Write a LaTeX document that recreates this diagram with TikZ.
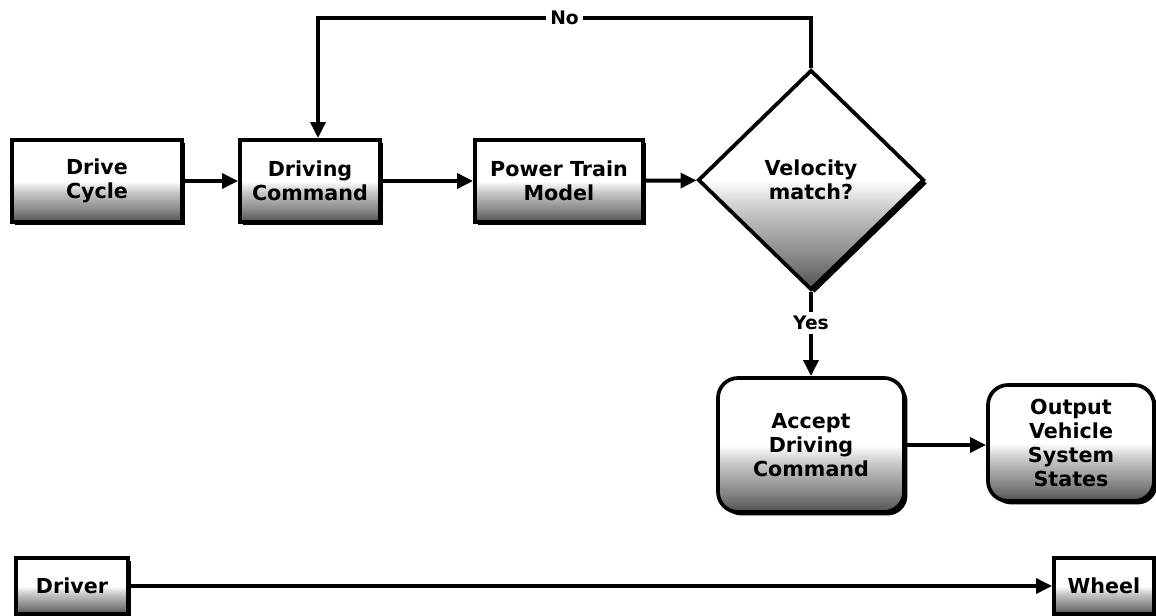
\documentclass[tikz,border=0pt]{standalone}
\usepackage{fontspec}
\setmainfont{DejaVu Sans}
\usetikzlibrary{arrows.meta,shapes.geometric,shadows}

% white top half fading to dark grey at the bottom
\pgfdeclareverticalshading{boxfade}{100bp}{%
  color(0bp)=(black!68); color(25bp)=(black!68); color(32bp)=(black!48);
  color(43bp)=(black!22); color(50bp)=(white); color(100bp)=(white)}

\tikzset{
  blk/.style={draw=black, line width=2.8pt, shading=boxfade,
    drop shadow={shadow xshift=2.6pt, shadow yshift=-2.6pt, fill=black, opacity=1},
    font=\fontsize{15.5}{18}\selectfont\bfseries, align=center, inner sep=2pt},
  stepbox/.style={blk, rectangle},
  roundbox/.style={blk, rectangle, rounded corners=15pt},
  decide/.style={blk, diamond, inner sep=0pt},
  flow/.style={line width=3pt, -{Triangle[length=12pt,width=11pt]}},
  tag/.style={font=\fontsize{14}{16}\selectfont\bfseries, fill=white, inner sep=3pt}
}

\begin{document}
\begin{tikzpicture}[x=0.75pt, y=-0.75pt]
\useasboundingbox (0,0) rectangle (1156,616);

% main chain
\node[stepbox, minimum width=127.5pt, minimum height=61.5pt] (drive) at (97,181) {Drive\\Cycle};
\node[stepbox, minimum width=105pt, minimum height=61.5pt] (cmd) at (310,181) {Driving\\Command};
\node[stepbox, minimum width=126pt, minimum height=61.5pt] (ptm) at (559,181) {Power Train\\Model};
\node[decide, minimum width=169.5pt, minimum height=165pt] (vel) at (811,180) {Velocity\\match?};

% accepted branch
\node[roundbox, minimum width=139.5pt, minimum height=100.5pt] (acc) at (811,445) {Accept\\Driving\\Command};
\node[roundbox, minimum width=124.5pt, minimum height=87pt] (out) at (1071,443) {Output\\Vehicle\\System\\States};

% bottom strip
\node[stepbox, minimum width=84pt, minimum height=42pt] (driver) at (72,586) {Driver};
\node[stepbox, minimum width=75pt, minimum height=42pt] (wheel) at (1104,586) {Wheel};

% connectors
\draw[flow] (drive) -- (cmd);
\draw[flow] (cmd) -- (ptm);
\draw[flow] (ptm) -- (vel);

\coordinate (loopR) at (811,18);
\coordinate (loopL) at (318,18);
\draw[flow] (vel.north) -- (loopR) -- node[tag] {No} (loopL) -- (loopL |- cmd.north);

\draw[flow] (vel.south) -- node[tag, pos=0.37] {Yes} (acc.north);
\draw[flow] (acc.east) -- (out.west |- acc.east);
\draw[flow] (driver.east) -- (wheel.west);
\end{tikzpicture}
\end{document}
